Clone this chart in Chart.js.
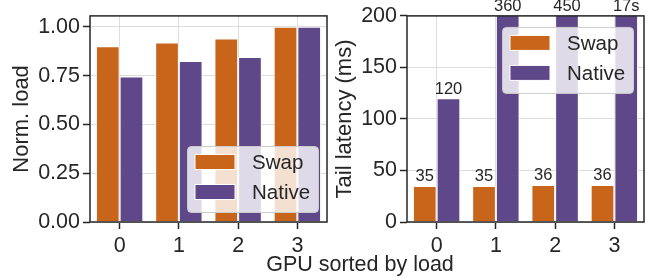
<!DOCTYPE html>
<html>
<head>
<meta charset="utf-8">
<script src="https://cdn.jsdelivr.net/npm/chart.js@4.4.0/dist/chart.umd.min.js"></script>
<style>
  html, body { margin: 0; padding: 0; background: #fff; }
  #wrap { position: relative; width: 657px; height: 278px; overflow: hidden; }
  #loadBox { position: absolute; left: 0; top: 0; width: 330px; height: 278px; }
  #latBox { position: absolute; left: 330px; top: 0; width: 327px; height: 278px; }
  #xTitle {
    position: absolute; left: 0; width: 720px; top: 252px; line-height: 24px; text-align: center;
    font-family: "Liberation Sans", Arial, sans-serif; font-size: 21.5px; color: #262626;
  }
</style>
</head>
<body>
<div id="wrap">
  <div id="loadBox"><canvas id="loadChart"></canvas></div>
  <div id="latBox"><canvas id="latChart"></canvas></div>
  <div id="xTitle">GPU sorted by load</div>
</div>
<script>
// data
const gpuLabels = ['0', '1', '2', '3'];
const seriesNames = ['Swap', 'Native'];

const loadSwap = [0.90, 0.92, 0.94, 1.00];
const loadNative = [0.745, 0.825, 0.845, 1.00];
const loadTicks = [0, 0.25, 0.5, 0.75, 1.0];

const latSwap = [35, 35, 36, 36];
const latNative = [120, 360, 450, 17000];
const latSwapText = ['35', '35', '36', '36'];
const latNativeText = ['120', '360', '450', '17s'];
const latTicks = [0, 50, 100, 150, 200];

const ORANGE = '#C8651B';
const PURPLE = '#5F4889';
const INK = '#262626';
const FONT = '"Liberation Sans", Arial, sans-serif';

// box around the whole plot area (matplotlib style spines)
const framePlugin = {
    id: 'frame',
    afterDraw(chart) {
        const { ctx, chartArea: a } = chart;
        ctx.save();
        ctx.strokeStyle = INK;
        ctx.lineWidth = 1.5;
        ctx.strokeRect(a.left, a.top, a.right - a.left, a.bottom - a.top);
        ctx.restore();
    }
};

// numbers above bars, pinned at the top edge when the bar is clipped
const barTextPlugin = {
    id: 'barText',
    afterDatasetsDraw(chart, args, opts) {
        if (!opts.texts) return;
        const { ctx, chartArea: a } = chart;
        ctx.save();
        ctx.fillStyle = INK;
        ctx.font = `${opts.size}px ${FONT}`;
        ctx.textAlign = 'center';
        ctx.textBaseline = 'bottom';
        opts.texts.forEach((list, di) => {
            chart.getDatasetMeta(di).data.forEach((bar, i) => {
                ctx.fillText(list[i], bar.x, Math.max(bar.y, a.top) - 1);
            });
        });
        ctx.restore();
    }
};

// semi-transparent legend drawn over the bars
const boxLegendPlugin = {
    id: 'boxLegend',
    afterDraw(chart, args, o) {
        const { ctx, chartArea: a } = chart;
        const w = 131, h = 66;
        const x = a.right - o.right - w;
        const y = o.top != null ? a.top + o.top : a.bottom - o.bottom - h;
        ctx.save();
        ctx.fillStyle = 'rgba(255,255,255,0.8)';
        ctx.strokeStyle = '#cccccc';
        ctx.lineWidth = 1;
        ctx.beginPath();
        ctx.roundRect(x + 0.5, y + 0.5, w, h, 4);
        ctx.fill();
        ctx.stroke();
        ctx.font = `20.5px ${FONT}`;
        ctx.textBaseline = 'middle';
        chart.data.datasets.forEach((ds, i) => {
            const cy = y + 16 + i * 30;
            ctx.fillStyle = ds.backgroundColor;
            ctx.fillRect(x + 8, cy - 7.5, 40, 15);
            ctx.strokeStyle = '#fff';
            ctx.strokeRect(x + 8, cy - 7.5, 40, 15);
            ctx.fillStyle = INK;
            ctx.fillText(ds.label, x + 65, cy + 1);
        });
        ctx.restore();
    }
};

function makeDatasets(a, b) {
    return [a, b].map((vals, i) => ({
        label: seriesNames[i],
        data: vals,
        backgroundColor: i === 0 ? ORANGE : PURPLE,
        borderColor: '#ffffff',
        borderWidth: 1,
        categoryPercentage: 0.8,
        barPercentage: 1.0
    }));
}

function makeOptions(cfg) {
    return {
        responsive: true,
        maintainAspectRatio: false,
        animation: false,
        layout: { padding: { top: 15, right: cfg.padRight, left: 0, bottom: 0 } },
        plugins: {
            legend: { display: false },
            tooltip: { enabled: false },
            barText: { texts: cfg.texts, size: 16.5 },
            boxLegend: cfg.legend
        },
        scales: {
            x: {
                grid: { color: '#dddddd', offset: false, drawTicks: true, tickLength: 7, tickColor: INK, tickWidth: 1.5 },
                border: { display: false },
                ticks: { color: INK, padding: 4, font: { family: FONT, size: 21.5 } },
                afterFit(s) { s.height = 56; }
            },
            y: {
                min: 0,
                max: cfg.max,
                grid: { color: '#dddddd', tickLength: 7, tickColor: INK, tickWidth: 1.5 },
                border: { display: false },
                afterBuildTicks(s) { s.ticks = cfg.ticks.map(v => ({ value: v })); },
                ticks: {
                    color: INK, padding: 3,
                    font: { family: FONT, size: 21.5 },
                    callback: cfg.fmt
                },
                title: {
                    display: true, text: cfg.title, color: INK,
                    padding: { top: cfg.titlePad, bottom: 0 },
                    font: { family: FONT, size: 22 }
                },
                afterFit(s) { s.width = cfg.yWidth; }
            }
        }
    };
}

new Chart(document.getElementById('loadChart'), {
    type: 'bar',
    data: { labels: gpuLabels, datasets: makeDatasets(loadSwap, loadNative) },
    options: makeOptions({
        max: 1.056, ticks: loadTicks, fmt: v => Number(v).toFixed(2),
        title: 'Norm. load', titlePad: 9, yWidth: 90, padRight: 3,
        legend: { right: 9, bottom: 10 }
    }),
    plugins: [framePlugin, boxLegendPlugin]
});

new Chart(document.getElementById('latChart'), {
    type: 'bar',
    data: { labels: gpuLabels, datasets: makeDatasets(latSwap, latNative) },
    options: makeOptions({
        max: 200, ticks: latTicks, fmt: v => String(v),
        title: 'Tail latency (ms)', titlePad: 2, yWidth: 77, padRight: 13,
        texts: [latSwapText, latNativeText],
        legend: { right: 11, top: 11 }
    }),
    plugins: [framePlugin, barTextPlugin, boxLegendPlugin]
});
</script>
</body>
</html>
